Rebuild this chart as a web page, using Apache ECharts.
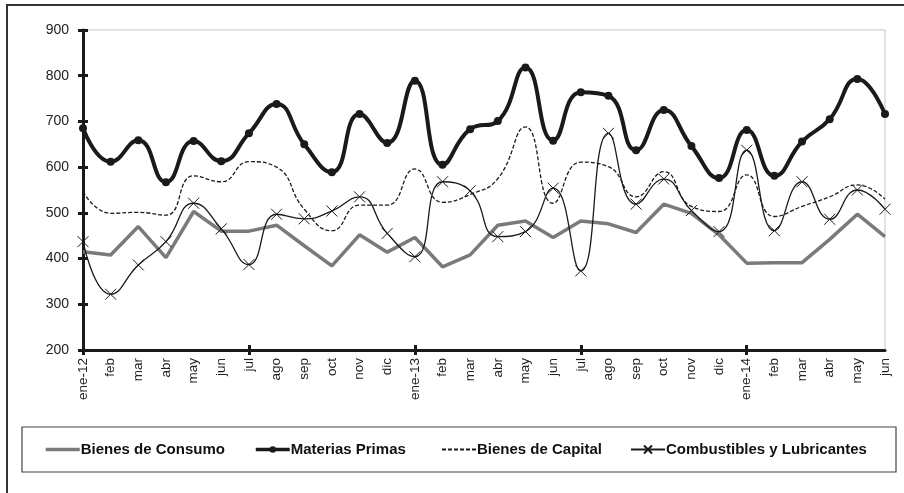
<!DOCTYPE html>
<html>
<head>
<meta charset="utf-8">
<script src="https://cdn.jsdelivr.net/npm/echarts@6/dist/echarts.min.js"></script>
<style>html,body{margin:0;padding:0;background:#fff}#c{width:904px;height:493px}</style>
</head>
<body>
<div id="c"></div>
<script>
const months = ['ene-12','feb','mar','abr','may','jun','jul','ago','sep','oct','nov','dic','ene-13','feb','mar','abr','may','jun','jul','ago','sep','oct','nov','dic','ene-14','feb','mar','abr','may','jun'];
const consumo = [415,408,470,402,503,460,460,473,428,384,452,414,446,382,408,473,482,446,482,476,457,519,499,452,390,391,391,442,497,448];
const materias = [685,612,659,567,657,613,674,738,650,589,716,653,789,605,683,701,818,658,764,756,637,725,646,576,681,581,656,705,793,716];
const capital = [546,499,501,495,581,568,612,600,508,461,517,517,596,523,540,575,688,521,611,601,535,590,514,503,583,492,514,535,561,530];
const combustibles = [437,322,386,437,521,465,387,497,487,504,535,455,404,568,548,448,459,554,373,674,519,574,505,459,637,461,568,486,550,508];
const yTicks = [200,300,400,500,600,700,800,900];

const names = ['Bienes de Consumo','Materias Primas','Bienes de Capital','Combustibles y Lubricantes'];
const FONT = '"Liberation Sans", Arial, sans-serif';
const INK = '#1a1a1a';
const GRAY = '#7a7a7a';
const XPATH = 'path://M0,0L10,10M10,0L0,10';

const chart = echarts.init(document.getElementById('c'), null, {renderer:'canvas'});
const legendLefts = [44, 254, 441, 630];
const legendHeights = [12, 8, 12, 10];
const legendItems = [
  {name:names[0], itemStyle:{opacity:0}, lineStyle:{width:3.5, color:GRAY}},
  {name:names[1], lineStyle:{width:3.5, color:INK}},
  {name:names[2], itemStyle:{opacity:0}},
  {name:names[3]}
];
const legends = legendItems.map((d,i)=>({
  data:[d],
  left: legendLefts[i], top: 442, itemWidth: 34, itemHeight: legendHeights[i], padding: 0,
  textStyle:{fontFamily:FONT, fontWeight:'bold', fontSize:15, color:'#111', padding:[0,0,0,-4]}
}));

chart.setOption({
  animation:false,
  backgroundColor:'#fff',
  textStyle:{fontFamily:FONT},
  grid:{left:83, right:19, top:30, bottom:143, show:true, borderColor:'#c4c4c4', borderWidth:1, backgroundColor:'#fff'},
  legend: legends,
  xAxis:[{
    type:'category', data:months, boundaryGap:false,
    axisLine:{lineStyle:{color:INK, width:3}},
    axisTick:{show:true, length:5, interval:(i)=>i%6===0, lineStyle:{color:INK, width:3}},
    axisLabel:{interval:0, rotate:90, fontSize:13.5, color:'#222', margin:8, fontFamily:FONT},
    splitLine:{show:false}
  },{
    type:'category', data:months, boundaryGap:false, position:'bottom',
    axisLine:{show:false},
    axisTick:{show:true, inside:true, length:5, interval:(i)=>i%6===0, lineStyle:{color:INK, width:3}},
    axisLabel:{show:false}, splitLine:{show:false}
  }],
  yAxis:[{
    type:'value', min:yTicks[0], max:yTicks[yTicks.length-1], interval:100,
    axisLine:{show:true, lineStyle:{color:INK, width:3}},
    axisTick:{show:true, length:5, lineStyle:{color:INK, width:3}},
    axisLabel:{fontSize:14, color:'#222', margin:14, fontFamily:FONT},
    splitLine:{show:false}
  },{
    type:'value', min:yTicks[0], max:yTicks[yTicks.length-1], interval:100, position:'left',
    axisLine:{show:false},
    axisTick:{show:true, inside:true, length:5, lineStyle:{color:INK, width:3}},
    axisLabel:{show:false}, splitLine:{show:false}
  }],
  series:[
    {name:names[0], type:'line', data:consumo, symbol:'none', lineStyle:{color:GRAY, width:3.5}, itemStyle:{color:GRAY}, z:2},
    {name:names[1], type:'line', data:materias, smooth:0.5, symbol:'circle', symbolSize:8, lineStyle:{color:INK, width:4}, itemStyle:{color:INK}, z:5},
    {name:names[2], type:'line', data:capital, smooth:0.5, symbol:'none', lineStyle:{color:INK, width:1.3, type:[4,2]}, itemStyle:{color:INK}, z:3},
    {name:names[3], type:'line', data:combustibles, smooth:0.5, symbol:XPATH, symbolSize:11, lineStyle:{color:INK, width:1.3}, itemStyle:{color:'none', borderColor:INK, borderWidth:1}, z:4}
  ],
  graphic:[
    {type:'line', shape:{x1:7, y1:5, x2:904, y2:5}, style:{stroke:'#333', lineWidth:2}},
    {type:'line', shape:{x1:7, y1:4, x2:7, y2:493}, style:{stroke:'#333', lineWidth:2}},
    {type:'rect', shape:{x:22, y:427, width:874, height:45}, style:{fill:'none', stroke:'#444', lineWidth:1.2}, z:-1}
  ]
});
</script>
</body>
</html>
